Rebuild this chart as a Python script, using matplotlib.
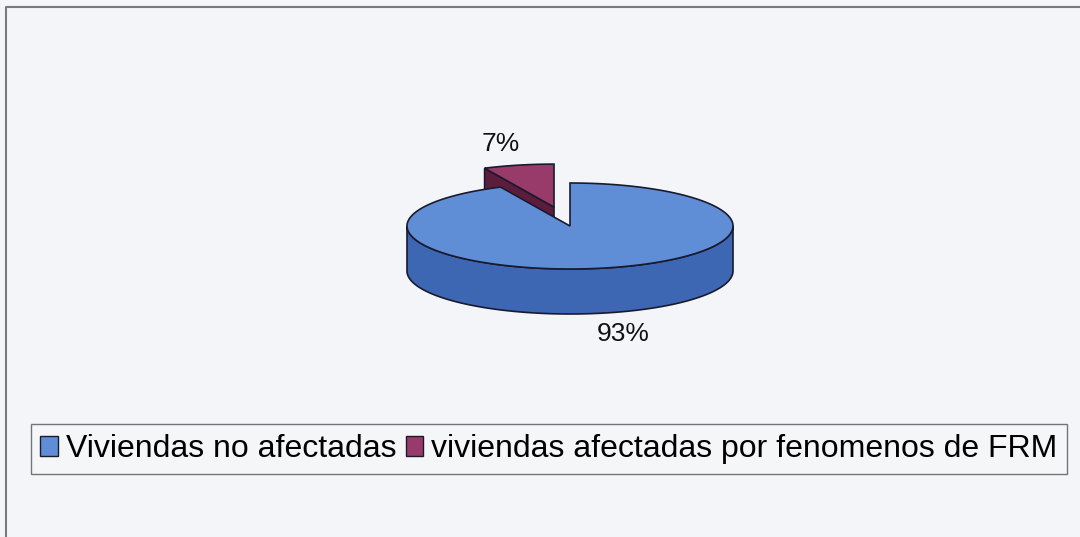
import numpy as np
import matplotlib.pyplot as plt
from matplotlib.patches import Polygon, Patch

# datos del grafico
categorias = ["Viviendas no afectadas", "viviendas afectadas por fenomenos de FRM"]
porcentajes = [93, 7]
explosion = [0.0, 0.45]

col_sup = ["#5f8ed6", "#983a6a"]
col_lado = ["#3d66b3", "#5c1d3c"]
col_borde = "#1a1a2e"

# geometria del pastel 3D (en pixeles)
cx, cy = 570, 226
a, b = 163, 43
prof = 45

W, H = 1080, 537
fig = plt.figure(figsize=(W / 100, H / 100), dpi=100)
fig.patch.set_facecolor("#f3f5f8")
ax = fig.add_axes([0, 0, 1, 1])
ax.set_xlim(0, W)
ax.set_ylim(H, 0)
ax.axis("off")

# marco
ax.plot([6, 6, W], [H, 7, 7], color="#7a7a7a", lw=1.5)


def borde(t, ox, oy, dz=0):
    t = np.radians(t)
    return np.column_stack([ox + a * np.cos(t), oy - b * np.sin(t) + dz])


# angulos: la porcion pequena arranca a las 12 y se gira en sentido antihorario
tot = sum(porcentajes)
orden = [1, 0]
rangos = [None, None]
ini = 90
for i in orden:
    fin = ini + 360 * porcentajes[i] / tot
    rangos[i] = (ini, fin)
    ini = fin


def centro(i):
    t0, t1 = rangos[i]
    m = np.radians((t0 + t1) / 2)
    return cx + explosion[i] * a * np.cos(m), cy - explosion[i] * b * np.sin(m)


# porcion separada (atras): cara radial y tapa
ox, oy = centro(1)
t0, t1 = rangos[1]
p_rim = borde(np.array([t1]), ox, oy)[0]
cara = [(ox, oy), tuple(p_rim), (p_rim[0], p_rim[1] + prof), (ox, oy + prof)]
ax.add_patch(Polygon(cara, closed=True, fc=col_lado[1], ec=col_borde, lw=1.2))
tapa = np.vstack([[ox, oy], borde(np.linspace(t0, t1, 40), ox, oy)])
ax.add_patch(Polygon(tapa, closed=True, fc=col_sup[1], ec=col_borde, lw=1.2))

# porcion grande: pared frontal y tapa
ox, oy = centro(0)
t0, t1 = rangos[0]
tt = np.linspace(max(t0, 180), min(t1, 360), 120)
pared = np.vstack([borde(tt, ox, oy), borde(tt[::-1], ox, oy, prof)])
ax.add_patch(Polygon(pared, closed=True, fc=col_lado[0], ec=col_borde, lw=1.2))
tapa = np.vstack([[ox, oy], borde(np.linspace(t0, t1, 300), ox, oy)])
ax.add_patch(Polygon(tapa, closed=True, fc=col_sup[0], ec=col_borde, lw=1.2))

# etiquetas de porcentaje
for i, p in enumerate(porcentajes):
    ox, oy = centro(i)
    t0, t1 = rangos[i]
    m = np.radians((t0 + t1) / 2)
    lx = ox + 1.5 * a * np.cos(m)
    ly = oy - 1.5 * b * np.sin(m) + (prof if np.sin(m) < 0 else 0)
    ax.text(lx, ly, f"{p}%", ha="center", va="center", fontsize=19,
            family="Liberation Sans", color="#111111")

# leyenda
manijas = [Patch(fc=col_sup[i], ec=col_borde, lw=1.0) for i in range(2)]
leg = ax.legend(manijas, categorias, loc="center", ncol=2,
                bbox_to_anchor=(549 / W, 1 - 449 / H),
                prop={"family": "Liberation Sans", "size": 23},
                handlelength=0.55, handleheight=0.6, handletextpad=0.25,
                columnspacing=0.3, borderpad=0.3, borderaxespad=0,
                fancybox=False, frameon=True)
leg.get_frame().set_edgecolor("#555555")
leg.get_frame().set_facecolor("#f6f7f9")
leg.get_frame().set_linewidth(1.0)

fig.savefig("out.png", dpi=100, facecolor=fig.get_facecolor())
